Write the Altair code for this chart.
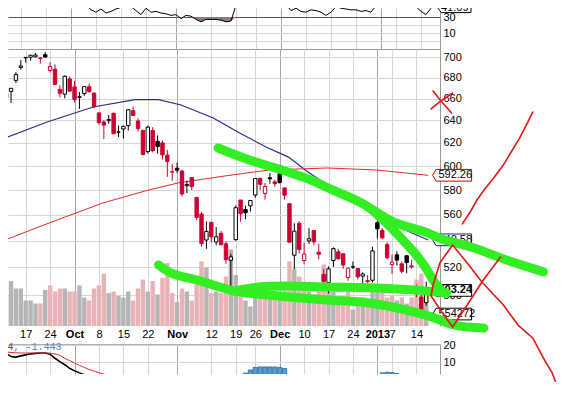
import altair as alt
import pandas as pd

# ---------------- data (AAPL daily) ----------------
# trading-day index: 0 = Mon 17 Sep 2012, -5 = 10 Sep 2012, 82 = 16 Jan 2013
day_index = list(range(-5, 83))

opens = [
    680.45, 665.11, 666.85, 677.37, 689.96,
    699.35, 699.88, 700.26, 699.16, 702.41,
    686.86, 688.26, 668.74, 664.29, 678.75,
    671.16, 661.81, 664.86, 671.25, 665.20,
    646.88, 638.65, 639.74, 646.50, 629.56,
    632.35, 635.37, 648.87, 639.59, 631.05,
    612.42, 631.00, 621.44, 620.00, 609.43,
    594.88, 598.22, 595.89,
    583.52, 590.23, 573.84, 560.63, 540.42,
    554.15, 538.91, 545.50, 537.53, 525.20,
    540.71, 571.91, 564.25, 567.17,
    575.90, 589.55, 577.27, 590.22, 586.79,
    593.65, 581.80, 568.91, 528.94, 553.40,
    525.00, 539.77, 547.77, 531.15, 514.75,
    508.93, 525.00, 531.47, 530.00, 512.47,
    520.35, 519.00, 513.54, 510.29,
    510.53, 553.82, 547.88, 536.97,
    522.00, 529.21, 522.50, 528.55, 521.00,
    502.68, 498.52, 494.64,
]
highs = [
    683.29, 670.10, 669.90, 685.50, 696.98,
    699.80, 702.33, 703.99, 700.06, 705.07,
    695.12, 692.78, 672.69, 682.17, 681.11,
    676.75, 666.35, 671.86, 674.25, 666.00,
    647.56, 640.49, 644.98, 647.20, 635.38,
    635.13, 650.30, 652.79, 642.06, 631.77,
    635.38, 633.90, 626.55, 622.00, 614.00,
    601.96, 603.00, 596.95,
    587.77, 590.74, 574.54, 562.23, 554.88,
    554.50, 550.48, 547.45, 539.50, 530.00,
    567.50, 571.95, 567.37, 572.00,
    590.00, 590.42, 585.80, 594.25, 588.40,
    594.59, 581.80, 569.25, 553.33, 555.00,
    538.51, 549.56, 547.99, 537.64, 518.80,
    520.60, 534.90, 533.70, 530.20, 519.67,
    524.25, 519.46, 516.25, 514.48,
    535.40, 555.00, 549.67, 538.63,
    529.30, 531.89, 524.30, 528.72, 525.32,
    507.50, 502.23, 509.44,
]
lows = [
    662.10, 656.50, 656.00, 674.77, 687.89,
    694.61, 696.42, 699.57, 693.62, 699.36,
    685.00, 673.00, 661.20, 660.35, 666.75,
    656.50, 650.65, 662.63, 665.55, 651.28,
    636.11, 623.55, 637.00, 628.10, 625.30,
    623.85, 631.00, 644.00, 630.00, 609.62,
    610.76, 611.70, 610.64, 605.55, 591.00,
    587.70, 594.17, 574.75,
    577.60, 580.09, 555.75, 535.29, 533.72,
    538.65, 536.36, 536.18, 522.62, 505.75,
    539.88, 554.58, 556.60, 562.60,
    573.71, 580.10, 572.26, 585.25, 582.68,
    585.50, 572.13, 538.77, 518.63, 530.00,
    522.18, 537.37, 536.27, 525.80, 505.44,
    501.23, 520.25, 525.50, 518.88, 510.24,
    518.71, 511.12, 504.66, 508.12,
    509.00, 541.63, 541.00, 525.83,
    515.20, 521.25, 515.53, 515.52, 519.02,
    498.51, 485.63, 492.50,
]
closes = [
    662.74, 660.59, 669.79, 682.98, 691.28,
    699.78, 701.91, 702.10, 698.70, 700.09,
    690.79, 673.54, 665.18, 681.32, 667.10,
    659.39, 661.31, 671.45, 666.80, 652.59,
    638.17, 635.85, 640.91, 628.10, 629.71,
    634.76, 649.79, 644.61, 632.64, 609.84,
    634.03, 613.36, 616.83, 609.54, 604.00,
    595.32, 596.54, 576.80,
    584.62, 582.85, 558.00, 537.75, 547.06,
    542.83, 542.90, 536.88, 525.62, 527.68,
    565.73, 560.91, 561.70, 571.50,
    589.53, 584.78, 582.94, 589.36, 585.28,
    586.19, 575.85, 538.79, 547.24, 533.25,
    529.82, 541.39, 539.00, 529.69, 509.79,
    518.83, 533.90, 526.31, 521.73, 519.33,
    520.17, 513.00, 515.06, 509.59,
    532.17, 549.03, 542.10, 527.00,
    523.90, 525.31, 517.10, 523.51, 520.30,
    501.75, 485.92, 503.24,
]
volume_m = [
    28, 21, 30, 25, 25,
    17, 17, 15, 15, 24,
    27, 23, 25, 25, 23,
    23, 27, 19, 17, 25,
    27, 35, 22, 23, 20,
    19, 23, 17, 25, 31,
    23, 30, 21, 32, 42,
    22, 16, 25,
    23, 17, 28, 43, 39,
    22, 23, 22, 33, 51,
    34, 27, 17, 13,
    19, 24, 23, 21, 20,
    21, 24, 43, 38, 33,
    24, 23, 21, 25, 41,
    27, 23, 19, 20, 25,
    11, 16, 19, 18,
    28, 27, 23, 19,
    20, 17, 19, 15, 19,
    31, 35, 24,
]
rsi14 = [
    55, 58, 62, 66, 70,
    72, 73, 73, 70, 68,
    53, 49, 46, 50, 45,
    44, 46, 48, 45, 39,
    36, 40, 35, 37, 40,
    42, 47, 43, 38, 33,
    41, 36, 37, 35, 34,
    32, 33, 28,
    32, 31, 27, 24, 27,
    27, 27, 26, 24, 25,
    45, 44, 45, 48,
    52, 55, 53, 56, 54,
    50, 46, 38, 41, 37,
    36, 39, 38, 36, 32,
    36, 43, 41, 40, 39,
    39, 37, 38, 36,
    44, 52, 50, 46,
    45, 46, 43, 45, 43,
    37, 33, 41.09,
]

# moving averages (trading-day index, price)
sma50_index = [-4.2, 4.4, 13.8, 22.4, 27.2, 31.8, 38.4, 43.8, 49.2, 53.8, 57.8, 61.8, 65.8, 70.4, 75.8, 82.4]
sma50_value = [624.3, 638.6, 652.3, 659.2, 659.2, 654.2, 642.2, 628.8, 616.5, 607.7, 595.0, 584.2, 574.4, 562.3, 551.3, 540.5]
sma200_index = [-4.2, 5.8, 15.8, 25.2, 31.2, 40.8, 49.8, 61.8, 71.8, 82.4]
sma200_value = [540.5, 555.1, 569.5, 580.1, 585.9, 591.7, 596.7, 598.4, 596.7, 592.26]

# MACD panel
macd_index = list(range(-5, 15))
macd_value = [16.0, 15.0, 13.2, 12.9, 13.6, 14.2, 14.8, 15.1, 15.3, 15.3,
              14.6, 12.2, 10.2, 8.4, 6.3, 4.8, 3.6, 2.5, 1.2, -0.2]
signal_index = list(range(-5, 19))
signal_value = [16.2, 15.9, 15.6, 15.4, 15.3, 15.3, 15.3, 15.3, 15.3, 15.3,
                15.2, 14.8, 13.9, 12.2, 10.8, 9.4, 8.0, 6.8, 5.6, 4.6,
                3.7, 2.9, 2.1, 1.4]
hist_index = [44, 45, 46, 47, 48, 49, 50, 51, 52, 53, 72, 73, 74, 75, 76, 77]
hist_value = [1.5, 3.5, 5.3, 6.8, 7.1, 7.1, 7.1, 7.1, 6.8, 6.2, 2.5, 3.6, 4.0, 3.8, 3.2, 2.0]

# hand-drawn green trend lines (trading-day index, price)
green1_index = [39.4, 45.8, 53.2, 58.4, 62.8, 68.4, 72.4, 75.8, 81.8, 85.2, 91.8, 98.4, 106.0]
green1_price = [615.6, 605.2, 595.8, 588.3, 580.1, 570.3, 560.7, 553.6, 546.6, 541.2, 534.4, 525.4, 516.6]
green2_index = [70.2, 73.2, 77.2, 79.8, 81.8, 83.8, 85.4]
green2_price = [566.2, 555.9, 540.5, 529.9, 520.2, 508.6, 502.1]
green3_index = [27.2, 29.8, 35.8, 42.8, 51.8, 61.8, 70.4, 81.8, 87.8, 93.8]
green3_price = [521.7, 515.8, 510.0, 502.8, 499.3, 496.5, 494.4, 486.1, 479.2, 477.2]
green4_index = [42.8, 47.8, 53.8, 61.8, 71.8, 79.8, 86.2]
green4_price = [502.8, 505.7, 506.4, 505.7, 505.0, 503.5, 501.4]

# hand-drawn red lines
red1_index = [83.4, 85.2, 87.2]
red1_price = [667.3, 657.0, 646.8]
red2_index = [83.0, 85.0, 87.4]
red2_price = [650.5, 657.9, 665.4]
red3_index = [89.4, 91.0, 92.4, 94.0, 95.8, 97.8, 99.4, 101.0, 102.4, 103.8]
red3_price = [552.9, 562.3, 571.9, 580.9, 590.0, 601.0, 612.1, 623.4, 635.0, 647.7]
red4_index = [97.2, 93.4, 90.4, 87.4, 85.2, 83.0, 83.4, 84.8, 87.4, 90.4, 93.4, 97.8,
              100.8, 103.8, 106.2, 107.8, 109.4]
red4_price = [527.6, 509.3, 493.0, 477.9, 488.1, 499.3, 507.1, 523.1, 536.7, 523.1, 509.3, 493.0,
              479.2, 470.5, 456.1, 447.8, 434.7]

# value tags on the right edge
price_tag_value = [592.26, 540.58, 503.24, 486.7]
price_tag_text = ["592.26", "540.58", "503.24", "554272"]
price_tag_kind = ["sma200", "sma50", "last", "volume"]
rsi_tag_value = [41.09]
rsi_tag_text = ["41.09"]

# x-axis labels
tick_pos = [0, 5, 10, 15, 20, 25, 31, 38, 43, 47, 52, 57, 62, 67, 72, 75, 80]
tick_txt = ["17", "24", "Oct", "8", "15", "22", "Nov", "12", "19", "26", "Dec",
            "10", "17", "24", "2013", "7", "14"]
month_pos = [10, 31, 52, 72]

# ---------------- frames ----------------
df = pd.DataFrame({"i": day_index, "open": opens, "high": highs, "low": lows,
                   "close": closes, "vol": volume_m, "rsi": rsi14})
df["prev"] = df["close"].shift(1).fillna(df["open"])
df["last"] = df["i"] == df["i"].max()


def strokes_frame(strokes):
    rows = []
    for s, (ii, pp) in enumerate(strokes):
        for k, (a, b) in enumerate(zip(ii, pp)):
            rows.append({"stroke": s, "k": k, "i": a, "p": b})
    return pd.DataFrame(rows)


green_df = strokes_frame([(green1_index, green1_price), (green2_index, green2_price),
                          (green3_index, green3_price), (green4_index, green4_price)])
red_df = strokes_frame([(red1_index, red1_price), (red2_index, red2_price),
                        (red3_index, red3_price), (red4_index, red4_price)])
sma50_df = pd.DataFrame({"i": sma50_index, "p": sma50_value})
sma200_df = pd.DataFrame({"i": sma200_index, "p": sma200_value})
macd_df = pd.DataFrame({"i": macd_index, "m": macd_value})
signal_df = pd.DataFrame({"i": signal_index, "m": signal_value})
hist_df = pd.DataFrame({"i": hist_index, "h": hist_value})
ptag_df = pd.DataFrame({"p": price_tag_value, "txt": price_tag_text, "kind": price_tag_kind})
rtag_df = pd.DataFrame({"r": rsi_tag_value, "txt": rsi_tag_text})

# ---------------- scales / axes ----------------
FONT = "Liberation Sans"
GRID = "#d6d6d6"
xs = alt.Scale(domain=[-2.6, 83.8], nice=False, zero=False)
ps = alt.Scale(type="log", domain=[478.55, 708.1], nice=False, zero=False)
vs = alt.Scale(domain=[0, 184.67], nice=False, zero=False)
rs = alt.Scale(domain=[-10, 41.25], nice=False, zero=False)
ms = alt.Scale(domain=[2.94, 20.59], nice=False, zero=False)

expr = "''"
for p, t in reversed(list(zip(tick_pos, tick_txt))):
    expr = f"datum.value == {p} ? '{t}' : ({expr})"
month_test = "indexof([" + ",".join(str(p) for p in month_pos) + "], datum.value) >= 0"
grid_cond = {"condition": {"test": month_test, "value": "#a6a6a6"}, "value": GRID}

x_axis_price = alt.Axis(values=tick_pos, labelExpr=expr, title=None, grid=True,
                        gridColor=grid_cond, ticks=False, tickSize=0, domain=False,
                        labelPadding=2, labelOverlap=False, labelFlush=False,
                        labelFont=FONT, labelFontSize=11, labelColor="#000000",
                        labelFontWeight={"condition": {"test": month_test, "value": "bold"},
                                         "value": "normal"})
x_axis_rsi = alt.Axis(values=tick_pos, labels=False, title=None, grid=True, gridColor=grid_cond,
                      ticks=False, tickSize=0, domain=True, domainColor="#9a9a9a", orient="bottom")
x_axis_macd = alt.Axis(values=tick_pos, labels=False, title=None, grid=True, gridColor=grid_cond,
                       ticks=False, tickSize=0, domain=True, domainColor="#b0b0b0", orient="top")

y_axis_price = alt.Axis(orient="right", values=list(range(500, 701, 20)), title=None, grid=True,
                        gridColor=GRID, ticks=False, tickSize=0, domain=True, domainColor="#9a9a9a",
                        labelPadding=3, labelFlush=False, labelOverlap=False, labelFont=FONT,
                        labelFontSize=11, labelColor="#000000", labelBaseline="middle")
y_axis_rsi = alt.Axis(orient="right", values=[30, 20, 10, 0], title=None, grid=True,
                      gridColor={"condition": {"test": "datum.value == 30", "value": "#555555"},
                                 "value": GRID},
                      labelExpr="datum.value == 30 || datum.value == 10 ? datum.label : ''",
                      ticks=False, tickSize=0, domain=True, domainColor="#9a9a9a", labelPadding=3,
                      labelFlush=False, labelOverlap=False, labelFont=FONT, labelFontSize=11,
                      labelColor="#000000")
y_axis_macd = alt.Axis(orient="right", values=[20, 10], title=None, grid=True, gridColor=GRID,
                       ticks=False, tickSize=0, domain=True, domainColor="#9a9a9a", labelPadding=3,
                       labelFlush=False, labelOverlap=False, labelFont=FONT, labelFontSize=11,
                       labelColor="#000000")

XP = alt.X("i:Q", scale=xs, axis=x_axis_price)
YP = alt.Y("p:Q", scale=ps, axis=None)
TAG = "M-1,0L-0.82,-0.3L1,-0.3L1,0.3L-0.82,0.3Z"
TAG_RSI = "M-1,0L-0.8,-0.27L1,-0.27L1,0.27L-0.8,0.27Z"

# ---------------- price panel ----------------
cbase = alt.Chart(df).transform_calculate(
    dir="datum.close < datum.prev ? 'down' : 'up'",
    body="datum.last ? 'last' : (datum.close > datum.open ? 'hollow' : "
         "(datum.close < datum.prev ? 'down' : 'up'))",
)
dir_stroke = alt.Scale(domain=["up", "down"], range=["#000000", "#cc0033"])

vol = cbase.mark_bar(size=4.4, clip=True).encode(
    x=XP, y=alt.Y("vol:Q", scale=vs, axis=None),
    color=alt.Color("dir:N", scale=alt.Scale(domain=["up", "down"], range=["#b5b5b5", "#e9b2b6"]),
                    legend=None))
sma50 = alt.Chart(sma50_df).mark_line(color="#2b2b8f", strokeWidth=1.2, clip=True).encode(x=XP, y=YP)
sma200 = alt.Chart(sma200_df).mark_line(color="#e02a2a", strokeWidth=1, clip=True).encode(x=XP, y=YP)
wick = cbase.mark_rule(strokeWidth=1, clip=True).encode(
    x=XP, y=alt.Y("low:Q", scale=ps, axis=y_axis_price), y2="high:Q",
    stroke=alt.Stroke("dir:N", scale=dir_stroke, legend=None))
body = cbase.mark_bar(size=3.4, strokeWidth=1, clip=True).encode(
    x=XP, y=alt.Y("open:Q", scale=ps, axis=None), y2="close:Q",
    fill=alt.Fill("body:N", scale=alt.Scale(domain=["hollow", "up", "down", "last"],
                                            range=["#ffffff", "#000000", "#cc0033", "#ffff66"]),
                  legend=None),
    stroke=alt.Stroke("dir:N", scale=dir_stroke, legend=None))
tag_pt = alt.Chart(ptag_df).mark_point(shape=TAG, size=1521, filled=True, fill="#ffffff",
                                       strokeWidth=1, opacity=1).encode(
    x=alt.XDatum(87.3, scale=xs, axis=x_axis_price), y=YP,
    stroke=alt.Stroke("kind:N", scale=alt.Scale(domain=["sma200", "sma50", "last", "volume"],
                                                range=["#cc0000", "#202080", "#000000", "#000000"]),
                      legend=None))
tag_txt = alt.Chart(ptag_df).transform_filter("datum.kind != 'last'").mark_text(
    align="left", baseline="middle", font=FONT, fontSize=11, color="#000000").encode(
    x=alt.XDatum(84.5, scale=xs, axis=x_axis_price), y=YP, text="txt:N")
tag_txt_b = alt.Chart(ptag_df).transform_filter("datum.kind == 'last'").mark_text(
    align="left", baseline="middle", font=FONT, fontSize=11, fontWeight="bold",
    color="#000000").encode(x=alt.XDatum(84.5, scale=xs, axis=x_axis_price), y=YP, text="txt:N")
green = alt.Chart(green_df).mark_line(color="#33ee22", strokeWidth=9, strokeCap="round",
                                      strokeJoin="round", interpolate="catmull-rom").encode(
    x=XP, y=YP, detail="stroke:N", order="k:Q")
red = alt.Chart(red_df).mark_line(color="#e01818", strokeWidth=1.6, strokeCap="round",
                                  strokeJoin="round").encode(
    x=XP, y=YP, detail="stroke:N", order="k:Q")

price_panel = alt.layer(vol, sma50, sma200, wick, body, tag_pt, tag_txt, tag_txt_b, green, red
                        ).resolve_scale(y="independent", color="independent",
                                        stroke="independent", fill="independent"
                                        ).properties(width=432, height=277)

# ---------------- RSI panel ----------------
XR = alt.X("i:Q", scale=xs, axis=x_axis_rsi)
rbase = alt.Chart(df)
r_area = rbase.transform_calculate(lo="min(datum.rsi, 30)").mark_area(
    color="#8c7c7e", clip=True).encode(x=XR, y=alt.Y("lo:Q", scale=rs, axis=y_axis_rsi),
                                       y2=alt.Y2Datum(30))
r_line = rbase.mark_line(color="#000000", strokeWidth=1, clip=True).encode(
    x=XR, y=alt.Y("rsi:Q", scale=rs, axis=y_axis_rsi))
r_tag = alt.Chart(rtag_df).mark_point(shape=TAG_RSI, size=1089, filled=True, fill="#ffffff",
                                      stroke="#000000", strokeWidth=1, opacity=1).encode(
    x=alt.XDatum(86.7, scale=xs, axis=x_axis_rsi), y=alt.Y("r:Q", scale=rs, axis=y_axis_rsi))
r_txt = alt.Chart(rtag_df).mark_text(align="left", baseline="middle", font=FONT, fontSize=11,
                                     color="#000000").encode(
    x=alt.XDatum(84.0, scale=xs, axis=x_axis_rsi), y=alt.Y("r:Q", scale=rs, axis=y_axis_rsi),
    text="txt:N")
rsi_panel = alt.layer(r_area, r_line, r_tag, r_txt).properties(width=432, height=41)

# ---------------- spacer for the date labels ----------------
spacer = alt.Chart(pd.DataFrame({"i": [0]})).mark_point(opacity=0).encode(
    x=alt.X("i:Q", scale=xs, axis=None)).properties(width=432, height=18)

# ---------------- MACD panel ----------------
XM = alt.X("i:Q", scale=xs, axis=x_axis_macd)
m_hist = alt.Chart(hist_df).mark_bar(size=4.2, color="#5b9bd5", stroke="#2b6a9c",
                                     strokeWidth=0.8, clip=True).encode(
    x=XM, y=alt.Y("h:Q", scale=ms, axis=y_axis_macd), y2=alt.Y2Datum(0))
m_line = alt.Chart(macd_df).mark_line(color="#000000", strokeWidth=1.6, clip=True).encode(
    x=XM, y=alt.Y("m:Q", scale=ms, axis=y_axis_macd))
m_sig = alt.Chart(signal_df).mark_line(color="#e02a2a", strokeWidth=1, clip=True).encode(
    x=XM, y=alt.Y("m:Q", scale=ms, axis=y_axis_macd))
m_lab1 = alt.Chart(pd.DataFrame({"t": ["74"]})).mark_text(
    align="right", baseline="middle", font="Liberation Mono", fontSize=10, color="#cc2222").encode(
    x=alt.XDatum(-2.5, scale=xs, axis=x_axis_macd), y=alt.YDatum(18.8, scale=ms, axis=y_axis_macd),
    text="t:N")
m_lab2 = alt.Chart(pd.DataFrame({"t": [", -1.443"]})).mark_text(
    align="left", baseline="middle", font="Liberation Mono", fontSize=10, color="#4a8ab5").encode(
    x=alt.XDatum(-2.5, scale=xs, axis=x_axis_macd), y=alt.YDatum(18.8, scale=ms, axis=y_axis_macd),
    text="t:N")
macd_panel = alt.layer(m_hist, m_line, m_sig, m_lab1, m_lab2).properties(width=432, height=30)

chart = alt.vconcat(rsi_panel, price_panel, spacer, macd_panel, spacing=0, bounds="flush").properties(
    autosize=alt.AutoSizeParams(type="none"),
    padding={"left": 0, "top": 0, "right": 123, "bottom": 374},
).configure_view(stroke=None).configure_axis(labelFont=FONT, labelFontSize=11, labelColor="#000000")

chart.save("out.html", embed_options={"renderer": "svg", "actions": False})
